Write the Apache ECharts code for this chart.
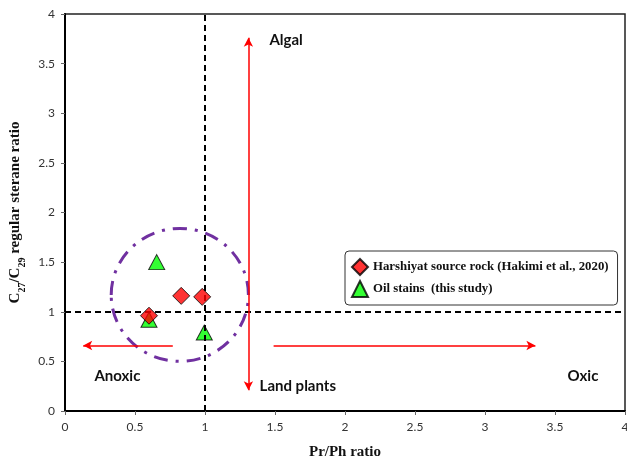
<!DOCTYPE html>
<html><head><meta charset="utf-8">
<script src="https://cdn.jsdelivr.net/npm/echarts@6/dist/echarts.min.js"></script>
<style>html,body{margin:0;padding:0;background:#fff}#c{width:627px;height:459px}</style>
</head><body><div id="c"></div>
<script>
const xTicks = [0, 0.5, 1, 1.5, 2, 2.5, 3, 3.5, 4];
const yTicks = [0, 0.5, 1, 1.5, 2, 2.5, 3, 3.5, 4];
const sourceRock = [[0.60, 0.96], [0.83, 1.16], [0.98, 1.15]];
const oilStains = [[0.60, 0.92], [0.655, 1.50], [0.995, 0.79]];
const seriesNames = ['Harshiyat source rock (Hakimi et al., 2020)', 'Oil stains  (this study)'];
const vArrowUp = [[1.31, 1.0], [1.31, 3.76]];
const vArrowDown = [[1.31, 1.0], [1.31, 0.21]];
const hArrowLeft = [[0.77, 0.66], [0.13, 0.66]];
const hArrowRight = [[1.49, 0.66], [3.36, 0.66]];
const zoneLabels = [['Algal', 1.46, 3.74], ['Land plants', 1.39, 0.25], ['Anoxic', 0.21, 0.35], ['Oxic', 3.59, 0.35]];
const cluster = { cx: 0.82, cy: 1.17, rx: 0.49, ry: 0.67 };

const chart = echarts.init(document.getElementById('c'));
const arrowLine = (pts) => [{ coord: pts[0], symbol: 'none' }, { coord: pts[1], symbol: 'arrow' }];
chart.setOption({
  animation: false,
  grid: { left: 65, right: 2, top: 14, bottom: 48, outerBoundsMode: 'none', containLabel: false,
    show: true, borderColor: '#222', borderWidth: 1.5 },
  xAxis: {
    type: 'value', min: 0, max: 4, interval: 0.5,
    name: 'Pr/Ph ratio', nameLocation: 'middle', nameGap: 34,
    nameTextStyle: { fontFamily: 'Liberation Serif', fontWeight: 'bold', fontSize: 15, color: '#111' },
    axisLine: { lineStyle: { color: '#000', width: 2 } },
    axisTick: { show: true, length: 4, lineStyle: { color: '#666' } },
    axisLabel: { fontFamily: 'Lato', fontSize: 12, color: '#333', margin: 10,
      formatter: v => xTicks.includes(v) ? String(v) : '' },
    splitLine: { show: false }
  },
  yAxis: {
    type: 'value', min: 0, max: 4, interval: 0.5,
    name: '{b|C}{s|27}{b|/C}{s|29}{b| regular sterane ratio}', nameLocation: 'middle', nameGap: 42,
    nameTextStyle: { rich: {
      b: { fontFamily: 'Liberation Serif', fontWeight: 'bold', fontSize: 15, color: '#111', lineHeight: 20, verticalAlign: 'bottom' },
      s: { fontFamily: 'Liberation Serif', fontWeight: 'bold', fontSize: 10, color: '#111', lineHeight: 20, verticalAlign: 'bottom', padding: [0, 0, -4, 0] }
    } },
    axisLine: { lineStyle: { color: '#000', width: 2 } },
    axisTick: { show: true, length: 4, lineStyle: { color: '#666' } },
    axisLabel: { fontFamily: 'Lato', fontSize: 12, color: '#333', margin: 10,
      formatter: v => yTicks.includes(v) ? String(v) : '' },
    splitLine: { show: false }
  },
  legend: {
    orient: 'vertical', left: 345, top: 251,
    data: seriesNames,
    borderColor: '#333', borderWidth: 1, borderRadius: 4, padding: [7, 9, 7, 6],
    itemWidth: 16, itemHeight: 16, itemGap: 4,
    textStyle: { fontFamily: 'Liberation Serif', fontWeight: 'bold', fontSize: 12.8, color: '#111' }
  },
  series: [
    {
      type: 'line', data: [], silent: true, z: 3,
      markLine: {
        silent: true, symbol: 'none', label: { show: false },
        lineStyle: { color: '#000', type: [6, 4], width: 2 },
        data: [{ xAxis: 1 }, { yAxis: 1 }]
      }
    },
    {
      type: 'line', data: [], silent: true, z: 3,
      markLine: {
        silent: true, symbolSize: [7, 9], label: { show: false },
        lineStyle: { color: '#ff0000', type: 'solid', width: 1.5 },
        data: [arrowLine(vArrowUp), arrowLine(vArrowDown), arrowLine(hArrowLeft), arrowLine(hArrowRight)]
      }
    },
    {
      name: seriesNames[0], type: 'scatter', symbol: 'diamond', symbolSize: [17, 17], z: 5,
      itemStyle: { color: '#ff0000', borderColor: '#000', borderWidth: 1 },
      data: sourceRock
    },
    {
      name: seriesNames[1], type: 'scatter', symbol: 'triangle', symbolSize: [16, 15], z: 4,
      itemStyle: { color: '#00ff00', borderColor: '#000', borderWidth: 1 },
      data: oilStains
    }
  ]
});

const c0 = chart.convertToPixel({ gridIndex: 0 }, [cluster.cx, cluster.cy]);
const cx1 = chart.convertToPixel({ gridIndex: 0 }, [cluster.cx + cluster.rx, cluster.cy + cluster.ry]);
const graphics = [{
  type: 'ellipse', z: 2, silent: true,
  shape: { cx: c0[0], cy: c0[1], rx: Math.abs(cx1[0] - c0[0]), ry: Math.abs(cx1[1] - c0[1]) },
  style: { fill: 'none', stroke: '#7030a0', lineWidth: 3, lineDash: [14, 8, 3, 8] }
}];
zoneLabels.forEach(([t, x, y]) => {
  const p = chart.convertToPixel({ gridIndex: 0 }, [x, y]);
  graphics.push({ type: 'text', z: 6, silent: true, x: p[0], y: p[1],
    style: { text: t, fontFamily: 'Lato', fontWeight: 'bold', fontSize: 15, fill: '#111', verticalAlign: 'middle', align: 'left' } });
});
chart.setOption({ graphic: graphics });
</script></body></html>
